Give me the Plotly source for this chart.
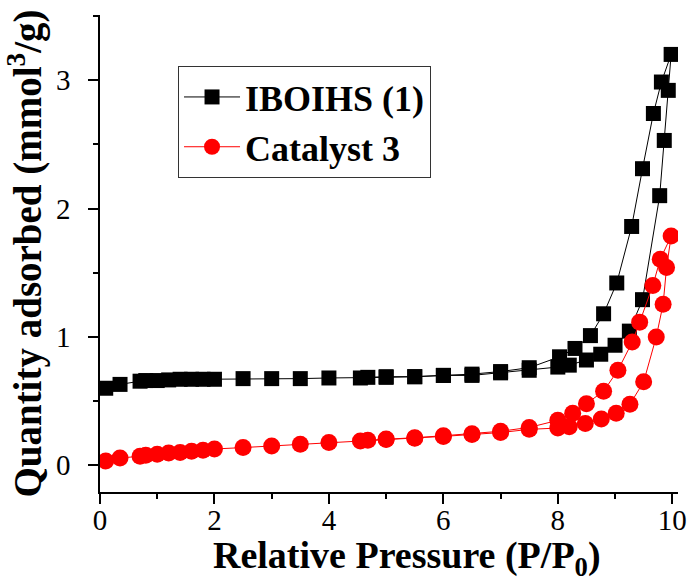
import plotly.graph_objects as go

# IBOIHS (1): adsorption branch (rising P/P0) and desorption branch (falling P/P0)
ib_ads_x = [0.10, 0.35, 0.70, 0.80, 1.0, 1.2, 1.4, 1.6, 1.8, 2.0, 2.5, 3.0, 3.5, 4.0, 4.55,
            5.0, 5.5, 6.0, 6.5, 7.0, 7.5, 8.0, 8.2, 8.5, 8.75, 9.0, 9.25, 9.48, 9.78, 9.86, 9.93, 9.98]
ib_ads_y = [0.60, 0.63, 0.655, 0.66, 0.66, 0.665, 0.67, 0.67, 0.67, 0.67, 0.675, 0.675, 0.675, 0.68, 0.68,
            0.685, 0.69, 0.70, 0.70, 0.72, 0.74, 0.765, 0.78, 0.82, 0.865, 0.935, 1.045, 1.29, 2.10, 2.53, 2.92, 3.20]
ib_des_x = [9.81, 9.67, 9.48, 9.29, 9.03, 8.80, 8.57, 8.30, 8.03, 7.5, 7.0, 6.5, 6.0, 5.5, 5.0, 4.68]
ib_des_y = [2.985, 2.74, 2.31, 1.86, 1.42, 1.18, 1.01, 0.91, 0.845, 0.76, 0.73, 0.71, 0.70, 0.69, 0.69, 0.685]

# Catalyst 3: adsorption and desorption branches
cat_ads_x = [0.10, 0.35, 0.70, 0.80, 1.0, 1.2, 1.4, 1.6, 1.8, 2.0, 2.5, 3.0, 3.5, 4.0, 4.55,
             5.0, 5.5, 6.0, 6.5, 7.0, 7.5, 8.0, 8.2, 8.48, 8.76, 9.02, 9.26, 9.50, 9.72, 9.84, 9.90, 9.98]
cat_ads_y = [0.034, 0.057, 0.07, 0.078, 0.086, 0.096, 0.10, 0.11, 0.117, 0.127, 0.138, 0.15, 0.164, 0.177, 0.19,
             0.20, 0.21, 0.225, 0.24, 0.255, 0.28, 0.29, 0.30, 0.325, 0.36, 0.405, 0.475, 0.65, 1.0, 1.255, 1.54, 1.785]
cat_des_x = [9.79, 9.66, 9.43, 9.30, 9.05, 8.80, 8.50, 8.26, 8.0, 7.5, 7.0, 6.5, 6.0, 5.5, 5.0, 4.68]
cat_des_y = [1.605, 1.40, 1.115, 0.96, 0.74, 0.577, 0.48, 0.405, 0.35, 0.295, 0.265, 0.245, 0.23, 0.215, 0.205, 0.195]

series_names = ["IBOIHS (1)", "Catalyst 3"]

x_ticks = [0, 2, 4, 6, 8, 10]
y_ticks = [0, 1, 2, 3]

x_title = "<b>Relative Pressure (P/P<sub>0</sub>)</b>"
y_title = "<b>Quantity adsorbed (mmol<sup>3</sup>/g)</b>"

SERIF = "Liberation Serif, Times New Roman, serif"

fig = go.Figure()

fig.add_trace(go.Scatter(
    x=ib_ads_x + ib_des_x, y=ib_ads_y + ib_des_y,
    mode="lines+markers", name=series_names[0],
    line=dict(color="black", width=1),
    marker=dict(symbol="square", size=15, color="black"),
))
fig.add_trace(go.Scatter(
    x=cat_ads_x + cat_des_x, y=cat_ads_y + cat_des_y,
    mode="lines+markers", name=series_names[1],
    line=dict(color="red", width=1),
    marker=dict(symbol="circle", size=17, color="red"),
))

fig.update_layout(
    width=697, height=583,
    margin=dict(l=100, r=10, t=15, b=91),
    paper_bgcolor="white", plot_bgcolor="white",
    font=dict(family=SERIF, color="black"),
    showlegend=True,
    legend=dict(
        x=0.135, y=0.893, xanchor="left", yanchor="top",
        bordercolor="#333333", borderwidth=1, bgcolor="white",
        font=dict(family=SERIF, size=36, color="black", weight="bold"),
        itemwidth=56, tracegroupgap=0,
    ),
    annotations=[dict(
        text=x_title, xref="paper", yref="paper",
        x=0.531, y=-0.083, xanchor="center", yanchor="top",
        showarrow=False, font=dict(family=SERIF, size=38, color="black"),
    )],
)

fig.update_xaxes(
    range=[0, 10.1],
    tickmode="array", tickvals=x_ticks, ticktext=[str(v) for v in x_ticks],
    ticks="outside", ticklen=10, tickwidth=1.5, tickcolor="black",
    minor=dict(dtick=1, tick0=0, ticks="outside", ticklen=5, tickwidth=1.5, tickcolor="black"),
    showline=True, linecolor="black", linewidth=1.5,
    showgrid=False, zeroline=False,
    tickfont=dict(family=SERIF, size=29, color="black"),
    ticklabelstandoff=-9,
)
fig.update_yaxes(
    range=[-0.208, 3.507],
    tickmode="array", tickvals=y_ticks, ticktext=[str(v) for v in y_ticks],
    ticks="outside", ticklen=10, tickwidth=1.5, tickcolor="black",
    minor=dict(dtick=0.5, tick0=0, ticks="outside", ticklen=5, tickwidth=1.5, tickcolor="black"),
    showline=True, linecolor="black", linewidth=1.5,
    showgrid=False, zeroline=False,
    tickfont=dict(family=SERIF, size=29, color="black"),
    ticklabelstandoff=12,
    title=dict(text=y_title, font=dict(family=SERIF, size=39, color="black"), standoff=2),
)

fig.write_html("out.html")
